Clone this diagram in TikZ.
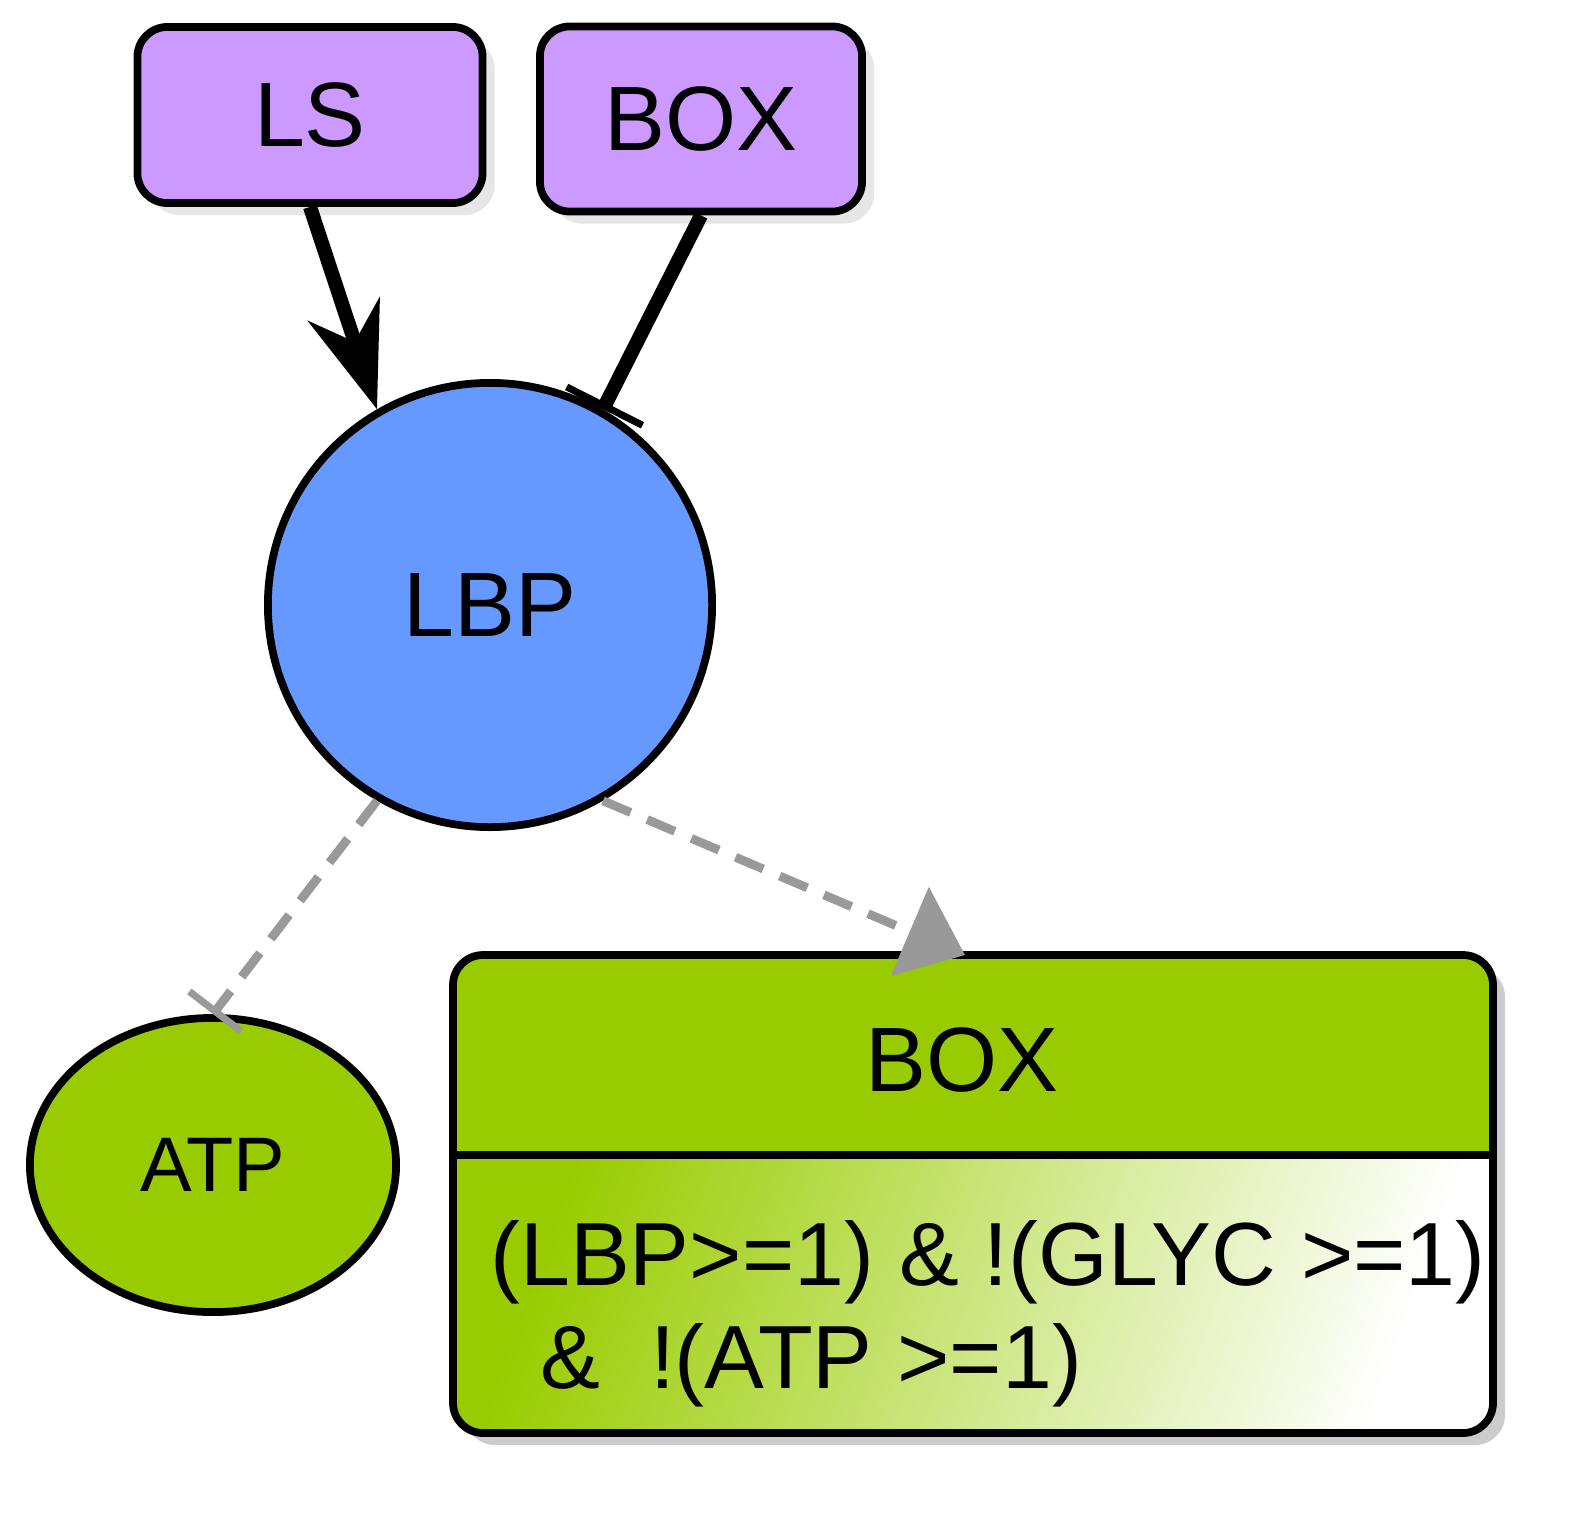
\documentclass[tikz,border=0pt]{standalone}
\usepackage{fontspec}
\setmainfont{Liberation Sans}
\usetikzlibrary{shadows,arrows.meta,shapes.geometric}
\definecolor{purp}{HTML}{CC99FF}
\definecolor{blu}{HTML}{6699FF}
\definecolor{grn}{HTML}{99CC00}
\definecolor{gry}{HTML}{999999}
\begin{document}
\begin{tikzpicture}[x=0.01cm,y=0.01cm,
 shd/.style={drop shadow={opacity=0.2,shadow xshift=0.12cm,shadow yshift=-0.12cm}},
 gene/.style={draw=black,line width=2.2pt,fill=purp,rounded corners=0.3cm,shd,minimum width=3.45cm,minimum height=1.76cm,font=\fontsize{26}{30}\selectfont},
 act/.style={line width=4pt,-{Stealth[length=1.05cm,width=0.75cm]}},
 inh/.style={line width=4pt,-{Bar[width=0.85cm,line width=2pt]}},
 dact/.style={gry,line width=2.5pt,dash pattern=on 0.3cm off 0.18cm,-{Triangle[length=0.6cm,width=0.95cm]}},
 dinh/.style={gry,line width=2.5pt,dash pattern=on 0.3cm off 0.18cm,-{Bar[width=0.65cm,line width=2pt]}}]
\useasboundingbox (0,0) rectangle (1588,-1524);
\node[gene] (ls) at (310,-115) {LS};
\node[gene,minimum width=3.22cm,minimum height=1.85cm] (box1) at (701,-119) {BOX};
\node[circle,draw,line width=2.2pt,fill=blu,minimum size=4.44cm,font=\fontsize{26}{30}\selectfont] (lbp) at (490,-605) {LBP};
\node[ellipse,draw,line width=2.2pt,fill=grn,minimum width=3.66cm,minimum height=2.94cm,font=\fontsize{22}{26}\selectfont] (atp) at (213,-1165) {ATP};
% big box
\fill[black,opacity=0.2,rounded corners=0.3cm] (465,-967) rectangle (1505,-1445);
\fill[white,rounded corners=0.3cm] (453,-955) rectangle (1493,-1433);
\fill[grn,rounded corners=0.3cm] (453,-955) rectangle (1493,-1180);
\fill[grn] (453,-1100) rectangle (1493,-1155);
\begin{scope}
\clip[rounded corners=0.3cm] (453,-1100) rectangle (1493,-1433);
\shade[left color=grn,right color=white,shading angle=70] (453,-1155) rectangle (1493,-1433);
\end{scope}
\draw[line width=2.2pt,rounded corners=0.3cm] (453,-955) rectangle (1493,-1433);
\draw[line width=2.2pt] (453,-1155) -- (1493,-1155);
\node[font=\fontsize{26}{30}\selectfont] (bh) at (962,-1060) {BOX};
\node[font=\fontsize{25.5}{30}\selectfont,anchor=west] (l1) at (478,-1262) {(LBP>=1) \& !(GLYC >=1)};
\node[font=\fontsize{25.5}{30}\selectfont,anchor=west] (l2) at (528,-1365) {\&\ \ !(ATP >=1)};
\coordinate (boxtop) at (965,-955);
\draw[act] (ls.south) -- (lbp.120);
\draw[inh] (box1.south) -- (lbp.60);
\draw[dinh] (lbp.240) -- (atp.north);
\draw[dact] (lbp.300) -- (boxtop);
\end{tikzpicture}
\end{document}
